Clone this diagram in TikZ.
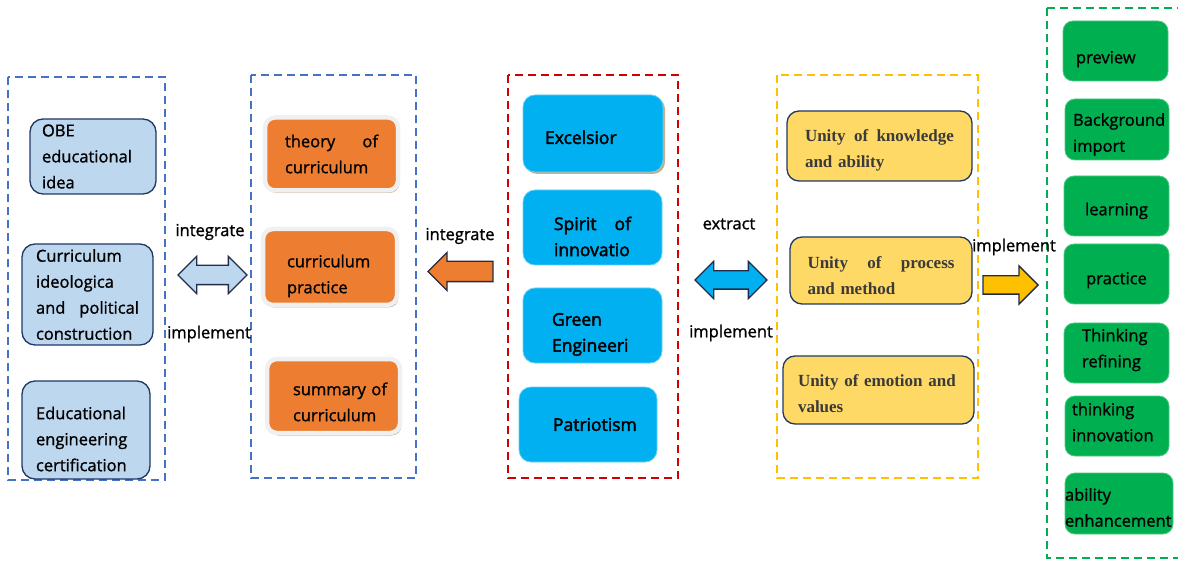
\documentclass[tikz,border=0pt]{standalone}
\usepackage{fontspec}
\setmainfont{Open Sans}[FakeBold=1.2]
\newfontfamily\spiritfont{Open Sans}[FakeBold=2.4]
\newfontfamily\unityfont{Liberation Serif}
\usetikzlibrary{shapes.arrows,shadows}
\definecolor{obeblue}{HTML}{BDD7EE}
\definecolor{boxline}{HTML}{1F3864}
\definecolor{arrowline}{HTML}{1F2D4A}
\definecolor{curorange}{HTML}{ED7D31}
\definecolor{shadowtan}{HTML}{C8AD8F}
\definecolor{spiritcyan}{HTML}{00B0F0}
\definecolor{unityyellow}{HTML}{FFD966}
\definecolor{unitytext}{HTML}{3A3A3A}
\definecolor{arrowyellow}{HTML}{FFC000}
\definecolor{stepgreen}{HTML}{00B050}
\definecolor{frameblue}{HTML}{4472C4}
\definecolor{framered}{HTML}{D00000}
\definecolor{frameyellow}{HTML}{FFC000}
\begin{document}
\begin{tikzpicture}[x=1pt,y=-1pt,
    frame/.style={dash pattern=on 8pt off 5pt, line width=1.3pt},
    txt/.style={font=\fontsize{16.5}{26}\selectfont, inner sep=0pt},
    obebox/.style={txt, fill=obeblue, draw=boxline, line width=1.3pt, rounded corners=13pt, align=left},
    currbox/.style={txt, fill=curorange, draw=black!6, line width=4.5pt, rounded corners=10pt, align=left,
        drop shadow={shadow xshift=1.5pt, shadow yshift=-2.5pt, fill=shadowtan, opacity=1}},
    spiritbox/.style={txt, font=\spiritfont\fontsize{17.5}{26}\selectfont, fill=spiritcyan, draw=spiritcyan!60,
        line width=.8pt, rounded corners=12pt, align=left, minimum width=139pt, minimum height=75pt},
    unitybox/.style={txt, font=\unityfont\bfseries\fontsize{17}{26}\selectfont, text=unitytext, fill=unityyellow,
        draw=boxline, line width=1.3pt, rounded corners=12pt, align=left},
    stepbox/.style={txt, fill=stepgreen, draw=stepgreen!70, line width=.8pt, rounded corners=10pt,
        align=left, minimum width=105pt, minimum height=60pt},
    blockarrow/.style={draw=arrowline, line width=1.3pt, inner xsep=0pt}]
  \useasboundingbox (0,0) rectangle (1178,561);
  \draw[frame, frameblue] (8,77) rectangle (165,480);
  \draw[frame, frameblue] (251,75) rectangle (416,478);
  \draw[frame, framered] (508,75) rectangle (678,478);
  \draw[frame, frameyellow] (777,75) rectangle (978,478);
  \draw[frame, stepgreen] (1047,8) rectangle (1190,558);

  \node[obebox, minimum width=126pt, minimum height=75pt, text width=102pt] (obe) at (93,156.5)
    {OBE\\educational\\idea};
  \node[obebox, minimum width=131pt, minimum height=101pt, text width=103pt] (ideo) at (87.5,294.5)
    {Curriculum\\ideologica\\and\hfill political\\construction};
  \node[obebox, minimum width=128pt, minimum height=98pt, text width=100pt, text height=30.5pt] (cert) at (86,430)
    {Educational\\engineering\\certification};

  \node[currbox, minimum width=133pt, minimum height=73pt, text width=93pt] (theory) at (331.5,154)
    {theory\hfill of\\curriculum};
  \node[currbox, minimum width=134pt, minimum height=76pt, text width=86pt, text height=30.5pt] (practice) at (330,267)
    {curriculum\\practice};
  \node[currbox, minimum width=133pt, minimum height=74pt, text width=81pt, text height=24.5pt] (summary) at (333.5,396)
    {\mbox{summary of}\\curriculum};

  \node[spiritbox, minimum width=140pt, minimum height=77pt, text width=96pt, text height=21pt,
    drop shadow={shadow xshift=2pt, shadow yshift=-2pt, fill=shadowtan, opacity=1}] (excel) at (593,133.5) {Excelsior};
  \node[spiritbox, text width=77pt, text height=31.3pt] (innov) at (592.5,227.5) {Spirit\hfill of\\innovatio};
  \node[spiritbox, text width=81pt, text height=30.5pt] (green) at (592.5,325.5) {Green\\Engineeri};
  \node[spiritbox, minimum width=138pt, text width=70pt] (patri) at (588,424.5) {Patriotism};

  \node[unitybox, minimum width=185pt, minimum height=70pt, text width=149pt, text height=20.5pt] (know) at (879.5,146)
    {Unity\hfill of\hfill knowledge\\and ability};
  \node[unitybox, minimum width=182pt, minimum height=67pt, text width=147pt, text height=22.5pt] (proc) at (881,270.5)
    {Unity\hfill of\hfill process\\and method};
  \node[unitybox, minimum width=191pt, minimum height=68pt, text width=161pt, text height=19.5pt] (emo) at (878.5,390)
    {Unity of emotion and\\values};

  \node[stepbox, text width=79pt, text height=28.5pt] (preview) at (1115.5,51) {preview};
  \node[stepbox, minimum width=104pt, minimum height=61pt, text width=88pt, text height=22.5pt] (backgr) at (1117,129.5)
    {Background\\import};
  \node[stepbox, align=center, text width=100pt, text height=22.5pt] (learn) at (1116.5,206) {learning};
  \node[stepbox, align=center, text width=100pt, text height=24.5pt] (prac) at (1116.5,274) {practice};
  \node[stepbox, text width=69pt, text depth=36pt] (refine) at (1116.5,353) {Thinking\\refining};
  \node[stepbox, minimum width=104pt, text width=90pt, text depth=34pt] (thinkinn) at (1117,426) {thinking\\innovation};
  \node[stepbox, minimum width=104pt, minimum height=61pt, text width=108pt, text height=20.5pt] (ability) at (1119,503.5)
    {ability\\enhancement};

  \node[double arrow, blockarrow, fill=obeblue, inner ysep=9pt, double arrow head extend=9pt,
    minimum height=69pt] (arobe) at (212.5,275) {};
  \node[single arrow, blockarrow, fill=curorange, inner ysep=9.5pt, single arrow head extend=9pt,
    minimum height=65pt, shape border rotate=180] (arcur) at (465.5,271.5) {};
  \node[double arrow, blockarrow, fill=spiritcyan, inner ysep=8.5pt, double arrow head extend=9.5pt,
    minimum height=72pt] (arspirit) at (731,280) {};
  \node[single arrow, blockarrow, fill=arrowyellow, inner ysep=8.5pt, single arrow head extend=10pt,
    minimum height=55pt] (arunity) at (1006,285) {};

  \node[txt] (int1) at (210,232) {integrate};
  \node[txt] (imp1) at (209,334) {implement};
  \node[txt] (int2) at (460,236) {integrate};
  \node[txt] (extr) at (729,224) {extract};
  \node[txt] (imp2) at (731,333) {implement};
  \node[txt] (imp3) at (1014,247) {implement};
\end{tikzpicture}
\end{document}
